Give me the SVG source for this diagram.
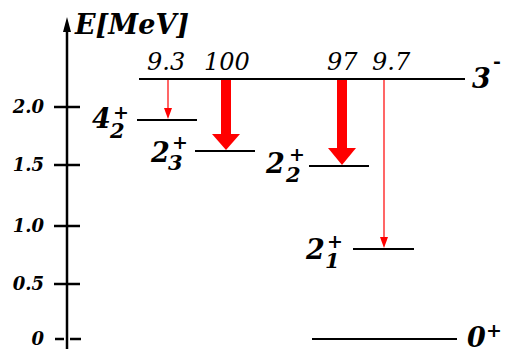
<svg xmlns="http://www.w3.org/2000/svg" width="505" height="349" viewBox="0 0 505 349">
<style>
.ax{stroke:#000;stroke-width:2.5;fill:none}
.lv{stroke:#000;stroke-width:2;fill:none}
.tk{font-family:"DejaVu Serif","Liberation Serif",serif;font-weight:bold;font-style:italic;font-size:18px;text-anchor:end}
.lab{font-family:"DejaVu Serif","Liberation Serif",serif;font-weight:bold;font-style:italic;font-size:27px}
.sub{font-family:"DejaVu Serif","Liberation Serif",serif;font-weight:bold;font-style:italic;font-size:21px}
.sup{font-family:"DejaVu Serif","Liberation Serif",serif;font-weight:bold;font-size:19px}
.int{font-family:"DejaVu Serif","Liberation Serif",serif;font-style:italic;font-size:24px}
.red{fill:#ff0000}
.thin{stroke:#ff0000;stroke-width:1.2;fill:none}
</style>
<g id="axis">
<line class="ax" x1="67" y1="30" x2="67" y2="349"/>
<polygon points="67,17 63,32 71,32" fill="#000"/>
<text x="75" y="34" class="lab" font-size="25px">E[MeV]</text>
<line class="ax" x1="54" y1="107" x2="80" y2="107"/>
<line class="ax" x1="54" y1="165" x2="80" y2="165"/>
<line class="ax" x1="54" y1="226" x2="80" y2="226"/>
<line class="ax" x1="54" y1="284" x2="80" y2="284"/>
<line class="ax" x1="55" y1="339" x2="64" y2="339"/>
<line class="ax" x1="70" y1="339" x2="81" y2="339"/>
<text x="44" y="113" class="tk">2.0</text>
<text x="44" y="171" class="tk">1.5</text>
<text x="44" y="232" class="tk">1.0</text>
<text x="44" y="290" class="tk">0.5</text>
<text x="44" y="345" class="tk">0</text>
</g>
<g id="level-3minus">
<line class="lv" x1="139" y1="79" x2="465" y2="79"/>
<text x="472" y="88" class="lab">3</text>
<text x="493" y="68" class="sup" font-size="22px">-</text>
</g>
<g id="level-4-2">
<line class="lv" x1="137" y1="120" x2="197" y2="120"/>
<text x="92" y="128" class="lab">4</text>
<text x="110" y="138" class="sub">2</text>
<text x="113" y="119" class="sup">+</text>
</g>
<g id="level-2-3">
<line class="lv" x1="195" y1="151" x2="255" y2="151"/>
<text x="151" y="162" class="lab">2</text>
<text x="168" y="170" class="sub">3</text>
<text x="172" y="149" class="sup">+</text>
</g>
<g id="level-2-2">
<line class="lv" x1="309" y1="166" x2="369" y2="166"/>
<text x="266" y="173" class="lab">2</text>
<text x="286" y="182" class="sub">2</text>
<text x="289" y="161" class="sup">+</text>
</g>
<g id="level-2-1">
<line class="lv" x1="353" y1="249" x2="414" y2="249"/>
<text x="306" y="259" class="lab">2</text>
<text x="325" y="268" class="sub">1</text>
<text x="327" y="248" class="sup">+</text>
</g>
<g id="level-0">
<line class="lv" x1="312" y1="339" x2="457" y2="339"/>
<text x="467" y="347" class="lab">0</text>
<text x="486" y="337" class="sup">+</text>
</g>
<g id="connectors">
<line class="thin" x1="168" y1="80" x2="168" y2="110"/>
<polygon class="red" points="164,108 172,108 168,119"/>
<rect class="red" x="221" y="80" width="10" height="55"/>
<polygon class="red" points="212,134 240,134 226,150"/>
<rect class="red" x="337" y="80" width="10" height="69"/>
<polygon class="red" points="328,148 356,148 342,165"/>
<line class="thin" x1="384" y1="80" x2="384" y2="240"/>
<polygon class="red" points="380,237 388,237 384,248"/>
</g>
<g id="intensities">
<text x="147" y="70" class="int">9.3</text>
<text x="204" y="70" class="int">100</text>
<text x="327" y="70" class="int">97</text>
<text x="372" y="70" class="int">9.7</text>
</g>
</svg>
